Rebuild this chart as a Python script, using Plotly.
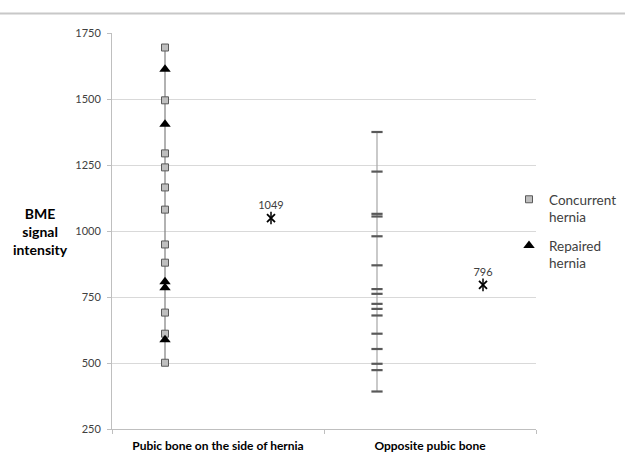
import plotly.graph_objects as go

categories = ["Pubic bone on the side of hernia", "Opposite pubic bone"]
concurrent_hernia = [1695, 1495, 1294, 1241, 1165, 1081, 949, 880, 691, 611, 501]
repaired_hernia = [1613, 1404, 808, 785, 588]
opposite_values = [1375, 1225, 1065, 1055, 980, 870, 780, 762, 724, 705, 680, 611, 553, 497, 473, 392]
mean_values = [1049, 796]
y_ticks = [250, 500, 750, 1000, 1250, 1500, 1750]

side_all = concurrent_hernia + repaired_hernia
x_side = 0.25
x_opp = 1.25
x_means = [0.75, 1.75]

FONT = "Lato, 'Open Sans', sans-serif"

fig = go.Figure()

fig.add_trace(go.Scatter(x=[x_side, x_side], y=[min(side_all), max(side_all)], mode="lines",
                         line=dict(color="#7f7f7f", width=1.2), showlegend=False, hoverinfo="skip"))
fig.add_trace(go.Scatter(x=[x_opp, x_opp], y=[min(opposite_values), max(opposite_values)], mode="lines",
                         line=dict(color="#a6a6a6", width=1.2), showlegend=False, hoverinfo="skip"))

fig.add_trace(go.Scatter(x=[x_side] * len(concurrent_hernia), y=concurrent_hernia, mode="markers",
                         name="Concurrent<br>hernia", legendgroup="a",
                         marker=dict(symbol="square", size=7, color="#bfbfbf",
                                     line=dict(color="#595959", width=1))))
fig.add_trace(go.Scatter(x=[x_side] * len(repaired_hernia), y=repaired_hernia, mode="markers",
                         name="Repaired<br>hernia", legendgroup="b",
                         marker=dict(symbol="triangle-up", size=10, color="#000000",
                                     line=dict(color="#000000", width=0))))

fig.add_trace(go.Scatter(x=[x_opp] * len(opposite_values), y=opposite_values, mode="markers",
                         showlegend=False,
                         marker=dict(symbol="line-ew-open", size=8, color="#595959",
                                     line=dict(color="#595959", width=2.2))))

fig.add_trace(go.Scatter(x=x_means, y=mean_values, mode="markers+text", showlegend=False,
                         text=[str(v) for v in mean_values], textposition="top center",
                         textfont=dict(family=FONT, size=11, color="#404040"),
                         marker=dict(symbol="x-thin-open", size=8, color="#000000",
                                     line=dict(color="#000000", width=1.8))))
fig.add_trace(go.Scatter(x=x_means, y=mean_values, mode="markers", showlegend=False,
                         marker=dict(symbol="line-ns-open", size=9, color="#000000",
                                     line=dict(color="#000000", width=1.5))))

L, R, T, B = 112, 89, 33, 23
W, H = 625, 452
pw = W - L - R
ph = H - T - B

fig.update_layout(
    width=W, height=H,
    margin=dict(l=L, r=R, t=T, b=B, autoexpand=False),
    paper_bgcolor="white", plot_bgcolor="white",
    font=dict(family=FONT, size=11, color="#404040"),
    xaxis=dict(range=[0, 2], tickvals=[0.5, 1.5], ticktext=categories, ticks="",
               tickfont=dict(family=FONT, size=12, color="#000000", weight="bold"),
               ticklabelstandoff=6,
               showgrid=False, zeroline=False, showline=True, linecolor="#bfbfbf", linewidth=1,
               minor=dict(tickvals=[0, 1, 2], ticks="outside", ticklen=4, tickcolor="#bfbfbf", showgrid=False)),
    yaxis=dict(range=[250, 1750], tickvals=y_ticks, ticks="outside", ticklen=4, tickcolor="#bfbfbf",
               ticklabelstandoff=4,
               showgrid=True, gridcolor="#d9d9d9", gridwidth=1, zeroline=False,
               showline=True, linecolor="#bfbfbf", linewidth=1,
               tickfont=dict(family=FONT, size=11, color="#404040")),
    legend=dict(x=(509 - L) / pw, y=(429 - 184) / ph, xanchor="left", yanchor="top",
                font=dict(family=FONT, size=13.5, color="#404040"), itemwidth=30,
                valign="top",
                tracegroupgap=8, bgcolor="rgba(0,0,0,0)"),
    showlegend=True,
)

fig.add_annotation(text="<b>BME<br>signal<br>intensity</b>", xref="paper", yref="paper",
                   x=(40 - L) / pw, y=(429 - 231) / ph, xanchor="center", yanchor="middle",
                   showarrow=False, align="center",
                   font=dict(family=FONT, size=14, color="#000000"))

fig.add_shape(type="line", xref="paper", yref="paper",
              x0=-L / pw, x1=(W - L) / pw, y0=(429 - 13.5) / ph, y1=(429 - 13.5) / ph,
              line=dict(color="#c8c8c8", width=2))

fig.write_html("out.html", config={"displayModeBar": False},
               post_script="document.body.style.margin='0';document.body.style.overflow='hidden';")
